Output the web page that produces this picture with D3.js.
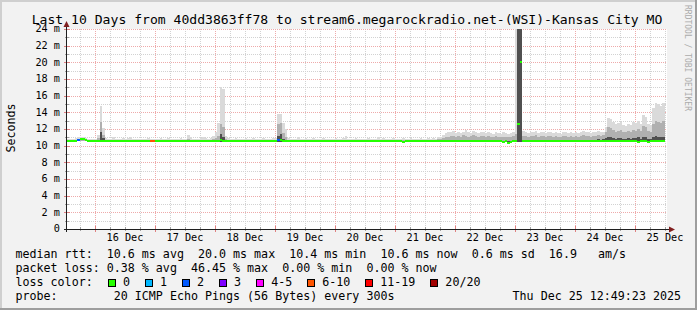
<!DOCTYPE html>
<html><head><meta charset="utf-8">
<script src="https://cdn.jsdelivr.net/npm/d3@7"></script>
<style>
html,body{margin:0;padding:0;background:#f2f2f2;}
svg{display:block;}
text{font-family:"DejaVu Sans Mono",monospace;white-space:pre;}
</style></head><body>
<svg id="c" width="697" height="310"></svg>
<script>
const title = "Last 10 Days from 40dd3863ff78 to stream6.megarockradio.net-(WSI)-Kansas City MO";
const startTime = Date.UTC(2025, 11, 15, 12, 49, 23);
const endTime = Date.UTC(2025, 11, 25, 12, 49, 23);
const binMs = 3600 * 1000;
const yTicks = [0, 2, 4, 6, 8, 10, 12, 14, 16, 18, 20, 22, 24];
const yTickLabels = ["0", "2 m", "4 m", "6 m", "8 m", "10 m", "12 m", "14 m", "16 m", "18 m", "20 m", "22 m", "24 m"];
const dayLabels = ["16 Dec", "17 Dec", "18 Dec", "19 Dec", "20 Dec", "21 Dec", "22 Dec", "23 Dec", "24 Dec", "25 Dec"];
const dayLabelTimes = [16, 17, 18, 19, 20, 21, 22, 23, 24, 25];

// median rtt per hourly bin (ms)
const median = [
10.6,10.6,10.6,10.6,10.7,10.8,10.8,10.7,10.6,10.6,10.6,10.6,
10.6,10.6,10.6,10.6,10.6,10.6,10.6,10.6,10.6,10.6,10.6,10.6,
10.6,10.6,10.6,10.6,10.6,10.6,10.6,10.6,10.6,10.6,10.6,10.6,
10.6,10.6,10.6,10.6,10.6,10.6,10.6,10.6,10.6,10.6,10.6,10.6,
10.6,10.6,10.6,10.6,10.6,10.6,10.6,10.6,10.6,10.6,10.6,10.6,
10.6,10.7,10.6,10.6,10.6,10.6,10.6,10.6,10.6,10.6,10.6,10.6,
10.6,10.6,10.6,10.6,10.6,10.6,10.6,10.6,10.6,10.6,10.6,10.6,
10.7,10.7,10.6,10.6,10.6,10.6,10.6,10.6,10.6,10.6,10.6,10.6,
10.6,10.6,10.6,10.6,10.6,10.6,10.6,10.6,10.6,10.6,10.6,10.6,
10.6,10.6,10.6,10.6,10.6,10.6,10.6,10.6,10.6,10.6,10.6,10.6,
10.6,10.6,10.6,10.6,10.6,10.6,10.6,10.6,10.6,10.6,10.6,10.6,
10.6,10.6,10.4,10.6,10.6,10.6,10.6,10.6,10.6,10.6,10.6,10.6,
10.6,10.6,10.6,10.6,10.6,10.6,10.6,10.6,10.6,10.6,10.6,10.6,
10.6,10.6,10.6,10.6,10.6,10.6,10.6,10.6,10.6,10.6,10.6,10.6,
10.6,10.6,10.6,10.6,10.6,10.6,10.4,10.6,10.3,10.4,10.6,10.6,
12.6,20.0,10.6,10.6,10.6,10.6,10.6,10.6,10.6,10.6,10.6,10.6,
10.6,10.6,10.6,10.6,10.6,10.6,10.6,10.6,10.6,10.6,10.6,10.6,
10.6,10.6,10.6,10.6,10.6,10.6,10.6,10.6,10.6,10.6,10.6,10.6,
10.6,10.6,10.6,10.6,10.6,10.6,10.6,10.6,10.6,10.6,10.6,10.6,
10.5,10.6,10.6,10.6,10.4,10.6,10.6,10.6,10.6,10.6,10.6,null];

// lowest ping per bin (ms)
const minPing = [
10.5,10.5,10.5,10.5,10.6,10.6,10.6,10.6,10.5,10.5,10.5,10.5,
10.5,10.5,10.5,10.5,10.5,10.5,10.5,10.5,10.5,10.5,10.5,10.5,
10.5,10.5,10.5,10.5,10.5,10.5,10.5,10.5,10.5,10.5,10.5,10.5,
10.5,10.5,10.5,10.5,10.5,10.5,10.5,10.5,10.5,10.5,10.5,10.5,
10.5,10.5,10.5,10.5,10.5,10.5,10.5,10.5,10.5,10.5,10.5,10.5,
10.5,10.5,10.5,10.5,10.5,10.5,10.5,10.5,10.5,10.5,10.5,10.5,
10.5,10.5,10.5,10.5,10.5,10.5,10.5,10.5,10.5,10.5,10.5,10.5,
10.5,10.5,10.5,10.5,10.5,10.5,10.5,10.5,10.5,10.5,10.5,10.5,
10.5,10.5,10.5,10.5,10.5,10.5,10.5,10.5,10.5,10.5,10.5,10.5,
10.5,10.5,10.5,10.5,10.5,10.5,10.5,10.5,10.5,10.5,10.5,10.5,
10.5,10.5,10.5,10.5,10.5,10.5,10.5,10.5,10.5,10.5,10.5,10.5,
10.5,10.5,10.3,10.5,10.5,10.5,10.5,10.5,10.5,10.5,10.5,10.5,
10.5,10.5,10.5,10.5,10.5,10.5,10.5,10.5,10.5,10.5,10.5,10.5,
10.5,10.5,10.5,10.5,10.5,10.5,10.5,10.5,10.5,10.5,10.5,10.5,
10.5,10.5,10.5,10.5,10.5,10.5,10.3,10.5,10.2,10.3,10.5,10.5,
10.5,10.5,10.5,10.5,10.5,10.5,10.5,10.5,10.5,10.5,10.5,10.5,
10.5,10.5,10.5,10.5,10.5,10.5,10.5,10.5,10.5,10.5,10.5,10.5,
10.5,10.5,10.5,10.5,10.5,10.5,10.5,10.5,10.5,10.5,10.5,10.5,
10.5,10.5,10.5,10.5,10.5,10.5,10.5,10.5,10.5,10.5,10.5,10.5,
10.4,10.5,10.5,10.5,10.3,10.5,10.5,10.5,10.5,10.5,10.5,null];

// highest ping per bin (ms) - light smoke
const maxPing = [
10.8,10.8,10.8,10.9,11.1,11.1,11.0,10.9,10.8,10.8,10.8,10.8,
11.3,14.8,12.1,10.9,10.8,10.8,11.0,10.8,10.8,10.8,10.9,10.8,
10.9,11.0,10.8,10.8,10.8,10.8,10.8,10.8,10.9,10.8,10.8,10.8,
10.8,10.9,10.8,10.8,10.9,10.8,10.8,10.8,10.8,10.9,10.8,10.8,
11.3,11.0,10.8,10.8,10.8,10.9,11.0,10.9,10.8,10.9,11.2,11.6,
12.7,17.0,16.8,11.2,10.9,10.8,10.8,10.9,10.8,10.8,10.8,10.9,
10.8,10.8,10.9,10.8,10.8,10.8,10.9,10.8,10.8,10.8,10.9,10.9,
13.8,13.8,12.7,12.0,10.9,10.8,10.8,10.8,11.1,10.8,10.8,10.9,
10.8,10.8,10.9,10.8,10.8,10.8,10.9,10.8,10.8,10.8,10.8,10.9,
10.8,10.8,10.9,11.2,10.8,10.8,10.8,10.9,10.8,10.8,10.8,10.8,
10.9,10.8,10.8,10.8,11.0,10.8,10.9,10.8,10.8,10.8,10.9,10.8,
10.8,10.8,10.9,10.8,10.8,10.9,10.8,10.8,10.8,10.9,10.8,10.8,
10.9,10.8,10.9,10.8,11.0,11.0,11.3,11.5,11.7,11.6,11.8,11.5,
11.6,11.5,11.7,11.9,11.6,11.5,11.8,11.6,11.5,11.7,11.6,11.5,
11.6,11.5,11.4,11.6,11.5,11.4,11.6,11.5,11.4,11.5,11.7,26.0,
26.0,26.0,11.8,11.6,11.5,11.7,11.6,11.8,11.5,11.6,11.7,11.5,
11.6,11.7,11.5,11.6,11.5,11.4,11.6,11.7,11.5,11.6,11.5,11.6,
11.5,11.6,11.8,11.7,11.6,11.5,11.6,11.7,11.8,11.6,11.7,12.3,
13.3,13.2,12.9,12.6,12.7,12.9,12.5,12.4,12.6,12.5,12.8,12.7,
13.0,12.6,13.7,13.4,12.6,12.5,14.5,15.1,15.0,14.8,15.1,null];

// upper-middle ping per bin (ms) - medium smoke
const midPing = [
10.7,10.7,10.7,10.7,10.8,10.8,10.8,10.7,10.7,10.7,10.7,10.7,
10.9,12.9,11.3,10.7,10.7,10.7,10.7,10.7,10.7,10.7,10.7,10.7,
10.7,10.7,10.7,10.7,10.7,10.7,10.7,10.7,10.7,10.7,10.7,10.7,
10.7,10.7,10.7,10.7,10.7,10.7,10.7,10.7,10.7,10.7,10.7,10.7,
10.8,10.7,10.7,10.7,10.7,10.7,10.7,10.7,10.7,10.7,10.8,10.9,
11.2,12.6,12.2,10.8,10.7,10.7,10.7,10.7,10.7,10.7,10.7,10.7,
10.7,10.7,10.7,10.7,10.7,10.7,10.7,10.7,10.7,10.7,10.7,10.7,
12.6,12.7,11.5,11.1,10.7,10.7,10.7,10.7,10.7,10.7,10.7,10.7,
10.7,10.7,10.7,10.7,10.7,10.7,10.7,10.7,10.7,10.7,10.7,10.7,
10.7,10.7,10.7,10.7,10.7,10.7,10.7,10.7,10.7,10.7,10.7,10.7,
10.7,10.7,10.7,10.7,10.7,10.7,10.7,10.7,10.7,10.7,10.7,10.7,
10.7,10.7,10.7,10.7,10.7,10.7,10.7,10.7,10.7,10.7,10.7,10.7,
10.7,10.7,10.7,10.7,10.8,10.8,10.9,11.0,11.1,11.2,11.2,11.1,
11.2,11.1,11.3,11.2,11.1,11.2,11.3,11.2,11.1,11.2,11.2,11.1,
11.2,11.1,11.1,11.2,11.1,11.0,11.1,11.1,11.0,11.1,11.2,11.4,
26.0,26.0,11.2,11.2,11.1,11.2,11.2,11.3,11.1,11.2,11.2,11.1,
11.2,11.2,11.1,11.2,11.1,11.1,11.2,11.2,11.1,11.2,11.1,11.2,
11.1,11.2,11.3,11.2,11.2,11.1,11.2,11.2,11.3,11.2,11.3,11.6,
12.2,12.1,11.9,11.7,11.8,11.9,11.7,11.6,11.8,11.7,11.9,11.8,
12.0,11.8,12.4,12.2,11.8,11.7,12.6,13.0,12.9,12.7,13.0,null];

// dense core of pings per bin (ms) - dark smoke
const corePing = [
10.6,10.6,10.6,10.6,10.6,10.6,10.6,10.6,10.6,10.6,10.6,10.6,
10.6,11.6,10.9,10.6,10.6,10.6,10.6,10.6,10.6,10.6,10.6,10.6,
10.6,10.6,10.6,10.6,10.6,10.6,10.6,10.6,10.6,10.6,10.6,10.6,
10.6,10.6,10.6,10.6,10.6,10.6,10.6,10.6,10.6,10.6,10.6,10.6,
10.6,10.6,10.6,10.6,10.6,10.6,10.6,10.6,10.6,10.6,10.6,10.6,
10.6,11.4,11.0,10.6,10.6,10.6,10.6,10.6,10.6,10.6,10.6,10.6,
10.6,10.6,10.6,10.6,10.6,10.6,10.6,10.6,10.6,10.6,10.6,10.6,
11.2,11.4,10.8,10.6,10.6,10.6,10.6,10.6,10.6,10.6,10.6,10.6,
10.6,10.6,10.6,10.6,10.6,10.6,10.6,10.6,10.6,10.6,10.6,10.6,
10.6,10.6,10.6,10.6,10.6,10.6,10.6,10.6,10.6,10.6,10.6,10.6,
10.6,10.6,10.6,10.6,10.6,10.6,10.6,10.6,10.6,10.6,10.6,10.6,
10.6,10.6,10.6,10.6,10.6,10.6,10.6,10.6,10.6,10.6,10.6,10.6,
10.6,10.6,10.6,10.6,10.6,10.6,10.6,10.6,10.6,10.6,10.7,10.6,
10.7,10.6,10.7,10.7,10.6,10.7,10.7,10.6,10.6,10.7,10.6,10.6,
10.7,10.6,10.6,10.7,10.6,10.6,10.6,10.6,10.6,10.6,10.7,10.7,
26.0,26.0,10.7,10.7,10.6,10.7,10.7,10.7,10.6,10.7,10.7,10.6,
10.7,10.7,10.6,10.7,10.6,10.6,10.7,10.7,10.6,10.7,10.6,10.7,
10.6,10.7,10.7,10.7,10.7,10.6,10.7,10.7,10.8,10.7,10.8,10.9,
11.1,11.0,10.9,10.8,10.9,10.9,10.8,10.8,10.9,10.8,10.9,10.9,
11.0,10.8,11.1,11.0,10.8,10.8,11.1,11.2,11.1,11.0,11.1,null];

// bins with packet loss (index, lost pings of 20)
const lossBins = [4, 33, 34, 84];
const lossCounts = [2, 8, 8, 2];

const lossLabels = ["0", "1", "2", "3", "4-5", "6-10", "11-19", "20/20"];
const lossColors = ["#26ff00", "#00b8ff", "#0059ff", "#7e00ff", "#ff00ff", "#ff5500", "#ff0000", "#a10000"];
const lossUpper = [0, 1, 2, 3, 5, 10, 19, 20];

const legendRtt = "median rtt:  10.6 ms avg  20.0 ms max  10.4 ms min  10.6 ms now  0.6 ms sd  16.9   am/s";
const legendLoss = "packet loss: 0.38 % avg  46.45 % max  0.00 % min  0.00 % now";
const legendColor = "loss color:";
const legendProbe = "probe:        20 ICMP Echo Pings (56 Bytes) every 300s";
const legendDate = "Thu Dec 25 12:49:23 2025";
const watermark = "RRDTOOL / TOBI OETIKER";

// ---------- drawing ----------
const W = 697, H = 310;
const L = 67, R = 667, T = 29, B = 229;
const svg = d3.select("#c");

svg.append("rect").attr("width", W).attr("height", H).attr("fill", "#f2f2f2");
// 3D border
svg.append("rect").attr("x", 0).attr("y", 0).attr("width", W).attr("height", 2).attr("fill", "#cfcfcf");
svg.append("rect").attr("x", 0).attr("y", 0).attr("width", 2).attr("height", H).attr("fill", "#cfcfcf");
svg.append("rect").attr("x", 0).attr("y", H - 2).attr("width", W).attr("height", 2).attr("fill", "#9e9e9e");
svg.append("rect").attr("x", W - 2).attr("y", 0).attr("width", 2).attr("height", H).attr("fill", "#9e9e9e");

const x = d3.scaleUtc().domain([startTime, endTime]).range([L, R]);
const y = d3.scaleLinear().domain([0, 24]).range([B, T]);

svg.append("rect").attr("x", L).attr("y", T).attr("width", R - L).attr("height", B - T).attr("fill", "#ffffff");

svg.append("defs").append("clipPath").attr("id", "clip")
  .append("rect").attr("x", L).attr("y", T).attr("width", R - L).attr("height", B - T);

// grid
const grid = svg.append("g").attr("shape-rendering", "crispEdges");
const minorT = d3.utcHour.every(6).range(new Date(startTime), new Date(endTime));
const majorT = d3.utcDay.range(new Date(startTime), new Date(endTime));
const minorCol = "#d2d2d2", majorCol = "#eeaaaa";
minorT.forEach(t => {
  const px = Math.round(x(t)) + 0.5;
  grid.append("line").attr("x1", px).attr("x2", px).attr("y1", T).attr("y2", B)
    .attr("stroke", minorCol).attr("stroke-dasharray", "1,1");
});
d3.range(0, 25, 1).forEach(v => {
  if (v % 2 === 0) return;
  const py = Math.round(y(v)) + 0.5;
  grid.append("line").attr("x1", L).attr("x2", R).attr("y1", py).attr("y2", py)
    .attr("stroke", minorCol).attr("stroke-dasharray", "1,1");
});
majorT.forEach(t => {
  const px = Math.round(x(t)) + 0.5;
  grid.append("line").attr("x1", px).attr("x2", px).attr("y1", T).attr("y2", B)
    .attr("stroke", majorCol).attr("stroke-dasharray", "1,1");
});
yTicks.forEach(v => {
  if (v === 0) return;
  const py = Math.round(y(v)) + 0.5;
  grid.append("line").attr("x1", L).attr("x2", R).attr("y1", py).attr("y2", py)
    .attr("stroke", majorCol).attr("stroke-dasharray", "1,1");
});

// smoke + median
const plot = svg.append("g").attr("clip-path", "url(#clip)").attr("shape-rendering", "crispEdges");
const lossOf = i => { const k = lossBins.indexOf(i); return k < 0 ? 0 : lossCounts[k]; };
const colorOf = n => lossColors[lossUpper.findIndex(u => n <= u)];
const layers = [[maxPing, "#dadada"], [midPing, "#b0b0b0"], [corePing, "#505050"]];
median.forEach((m, i) => {
  if (m == null) return;
  const x0 = x(startTime + i * binMs), x1 = x(startTime + (i + 1) * binMs);
  layers.forEach(([arr, col]) => {
    const v = arr[i];
    if (v == null || v <= minPing[i]) return;
    plot.append("rect").attr("x", x0).attr("width", x1 - x0)
      .attr("y", y(v)).attr("height", y(minPing[i]) - y(v)).attr("fill", col);
  });
});
median.forEach((m, i) => {
  if (m == null) return;
  const x0 = x(startTime + i * binMs), x1 = x(startTime + (i + 1) * binMs);
  plot.append("rect").attr("x", x0).attr("width", x1 - x0)
    .attr("y", y(m) - 1).attr("height", 2).attr("fill", colorOf(lossOf(i)));
});

// axes
const ax = svg.append("g").attr("shape-rendering", "crispEdges");
yTicks.forEach(v => {
  const py = Math.round(y(v)) + 0.5;
  ax.append("line").attr("x1", L - 3).attr("x2", L + 3).attr("y1", py).attr("y2", py).attr("stroke", "#e08080");
});
d3.range(1, 24, 2).forEach(v => {
  const py = Math.round(y(v)) + 0.5;
  ax.append("line").attr("x1", L - 2).attr("x2", L + 2).attr("y1", py).attr("y2", py).attr("stroke", "#a0a0a0");
});
minorT.forEach(t => {
  const px = Math.round(x(t)) + 0.5;
  ax.append("line").attr("x1", px).attr("x2", px).attr("y1", B - 2).attr("y2", B + 2).attr("stroke", "#a0a0a0");
});
majorT.forEach(t => {
  const px = Math.round(x(t)) + 0.5;
  ax.append("line").attr("x1", px).attr("x2", px).attr("y1", B - 3).attr("y2", B + 3).attr("stroke", "#e08080");
});
ax.append("line").attr("x1", L - 3).attr("x2", R + 4).attr("y1", B + 0.5).attr("y2", B + 0.5).attr("stroke", "#1f1f1f");
ax.append("line").attr("x1", L - 0.5).attr("x2", L - 0.5).attr("y1", B + 3).attr("y2", T - 4).attr("stroke", "#1f1f1f");
svg.append("path").attr("d", `M${L - 3.5},${T - 2} L${L + 2.5},${T - 2} L${L - 0.5},${T - 8} Z`).attr("fill", "#801f1f");
svg.append("path").attr("d", `M${R + 2},${B - 2.5} L${R + 2},${B + 3.5} L${R + 8},${B + 0.5} Z`).attr("fill", "#801f1f");

// y labels
yTicks.forEach((v, k) => {
  svg.append("text").attr("x", 60).attr("y", y(v) + 3.2).attr("text-anchor", "end")
    .attr("font-size", "10.2px").attr("fill", "#000").text(yTickLabels[k]);
});
// x labels
dayLabels.forEach((lab, k) => {
  const t = Date.UTC(2025, 11, dayLabelTimes[k], 12, 0, 0);
  svg.append("text").attr("x", x(t)).attr("y", 241).attr("text-anchor", "middle")
    .attr("font-size", "10.2px").attr("fill", "#000").text(lab);
});

// title
svg.append("text").attr("x", 347).attr("y", 23.5).attr("text-anchor", "middle")
  .attr("font-size", "13.1px").attr("fill", "#000").text(title);
// y unit label
svg.append("text").attr("transform", "translate(14.5,128) rotate(-90)").attr("text-anchor", "middle")
  .attr("font-size", "11.67px").attr("fill", "#000").text("Seconds");
// watermark
svg.append("text").attr("transform", "translate(685,5) rotate(90)").attr("font-size", "8px")
  .attr("fill", "#ababab").text(watermark);

// legend
const lx = 15.5, ly0 = 258.3, lstep = 13.9;
const leg = (s, row) => svg.append("text").attr("x", lx).attr("y", ly0 + row * lstep)
  .attr("font-size", "11.67px").attr("fill", "#000").text(s);
leg(legendRtt, 0);
leg(legendLoss, 1);
leg(legendColor, 2);
leg(legendProbe, 3);
svg.append("text").attr("x", 681).attr("y", ly0 + 3 * lstep).attr("text-anchor", "end")
  .attr("font-size", "11.67px").attr("fill", "#000").text(legendDate);
let bx = 108;
lossLabels.forEach((lab, k) => {
  svg.append("rect").attr("x", bx + 0.5).attr("y", 279.5).attr("width", 7).attr("height", 7)
    .attr("fill", lossColors[k]).attr("stroke", "#000").attr("stroke-width", 1).attr("shape-rendering", "crispEdges");
  const t = svg.append("text").attr("x", bx + 15).attr("y", ly0 + 2 * lstep)
    .attr("font-size", "11.67px").attr("fill", "#000").text(lab);
  bx = bx + 15 + t.node().getComputedTextLength() + 15;
});
</script>
</body></html>
